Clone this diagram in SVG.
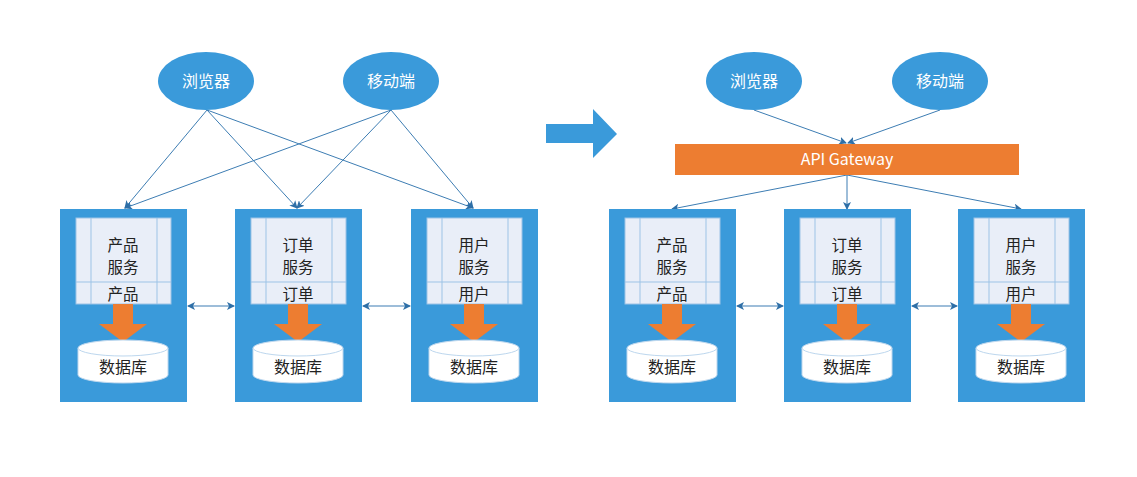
<svg xmlns="http://www.w3.org/2000/svg" width="1137" height="477" viewBox="0 0 1137 477">
<defs>
<style>
.box{fill:#3A9ADA;}
.tbl{fill:#E9EEF8;stroke:#9DC3E6;stroke-width:1;}
.tl{stroke:#9DC3E6;stroke-width:1;}
.org{fill:#ED7D31;}
.cyl{fill:#FFFFFF;stroke:#BDD7EE;stroke-width:1;}
.ell{fill:#3A9ADA;}
.t{font-family:"Noto Sans CJK SC","Noto Sans",sans-serif;font-size:15.5px;fill:#222;text-anchor:middle;}
.td{font-family:"Noto Sans CJK SC","Noto Sans",sans-serif;font-size:16px;fill:#222;text-anchor:middle;}
.tw{font-family:"Noto Sans CJK SC","Noto Sans",sans-serif;font-size:16px;fill:#FFFFFF;text-anchor:middle;}
.con{stroke:#3D7DB3;stroke-width:1;fill:none;marker-end:url(#ah);}
.dbl{stroke:#3D7DB3;stroke-width:1.2;fill:none;marker-end:url(#ah);marker-start:url(#ahs);}
</style>
<marker id="ah" markerWidth="8" markerHeight="8" refX="7" refY="4" orient="auto" markerUnits="userSpaceOnUse">
<path d="M0,0 L8,4 L0,8 L2,4 Z" fill="#2E6FA7"/>
</marker>
<marker id="ahs" markerWidth="8" markerHeight="8" refX="1" refY="4" orient="auto" markerUnits="userSpaceOnUse">
<path d="M8,0 L0,4 L8,8 L6,4 Z" fill="#2E6FA7"/>
</marker>
<g id="svc">
<rect class="box" x="0" y="0" width="127" height="193"/>
<rect class="tbl" x="16" y="9" width="95" height="86"/>
<line class="tl" x1="31" y1="9" x2="31" y2="95"/>
<line class="tl" x1="97" y1="9" x2="97" y2="95"/>
<line class="tl" x1="16" y1="73" x2="111" y2="73"/>
<polygon class="org" points="53,95 73,95 73,115 87,115 63,133 39,115 53,115"/>
<path class="cyl" d="M18,139 L18,166 A45,8 0 0 0 108,166 L108,139"/>
<ellipse class="cyl" cx="63" cy="139" rx="45" ry="8"/>
<text class="td" x="63" y="164">数据库</text>
</g>
</defs>

<g id="connectors">
<line class="con" x1="207" y1="110" x2="125" y2="208"/>
<line class="con" x1="207" y1="110" x2="297" y2="208"/>
<line class="con" x1="207" y1="110" x2="473" y2="208"/>
<line class="con" x1="391" y1="110" x2="125" y2="208"/>
<line class="con" x1="391" y1="110" x2="297" y2="208"/>
<line class="con" x1="391" y1="110" x2="473" y2="208"/>
<line class="dbl" x1="188" y1="306" x2="234" y2="306"/>
<line class="dbl" x1="363" y1="306" x2="410" y2="306"/>
<line class="con" x1="754" y1="110" x2="846" y2="143"/>
<line class="con" x1="940" y1="110" x2="848" y2="143"/>
<line class="con" x1="847" y1="175" x2="672" y2="209"/>
<line class="con" x1="847" y1="175" x2="847" y2="209"/>
<line class="con" x1="847" y1="175" x2="1021" y2="209"/>
<line class="dbl" x1="737" y1="306" x2="783" y2="306"/>
<line class="dbl" x1="912" y1="306" x2="957" y2="306"/>
</g>

<g id="browser-left">
<ellipse class="ell" cx="206" cy="81" rx="48" ry="29"/>
<text class="tw" x="206" y="87">浏览器</text>
</g>
<g id="mobile-left">
<ellipse class="ell" cx="391" cy="81" rx="48" ry="29"/>
<text class="tw" x="391" y="87">移动端</text>
</g>

<g id="product-left">
<use href="#svc" x="60" y="209"/>
<text class="t" x="123" y="251">产品</text>
<text class="t" x="123" y="273">服务</text>
<text class="t" x="123" y="300">产品</text>
</g>
<g id="order-left">
<use href="#svc" x="235" y="209"/>
<text class="t" x="298" y="251">订单</text>
<text class="t" x="298" y="273">服务</text>
<text class="t" x="298" y="300">订单</text>
</g>
<g id="user-left">
<use href="#svc" x="411" y="209"/>
<text class="t" x="474" y="251">用户</text>
<text class="t" x="474" y="273">服务</text>
<text class="t" x="474" y="300">用户</text>
</g>

<g id="big-arrow">
<polygon fill="#3A9ADA" points="546,124 593,124 593,109 617,134 593,158 593,143 546,143"/>
</g>

<g id="browser-right">
<ellipse class="ell" cx="754" cy="81" rx="48" ry="29"/>
<text class="tw" x="754" y="87">浏览器</text>
</g>
<g id="mobile-right">
<ellipse class="ell" cx="940" cy="81" rx="48" ry="29"/>
<text class="tw" x="940" y="87">移动端</text>
</g>

<g id="api-gateway">
<rect class="org" x="675" y="144" width="344" height="31"/>
<text class="tw" x="847" y="165">API Gateway</text>
</g>

<g id="product-right">
<use href="#svc" x="609" y="209"/>
<text class="t" x="672" y="251">产品</text>
<text class="t" x="672" y="273">服务</text>
<text class="t" x="672" y="300">产品</text>
</g>
<g id="order-right">
<use href="#svc" x="784" y="209"/>
<text class="t" x="847" y="251">订单</text>
<text class="t" x="847" y="273">服务</text>
<text class="t" x="847" y="300">订单</text>
</g>
<g id="user-right">
<use href="#svc" x="958" y="209"/>
<text class="t" x="1021" y="251">用户</text>
<text class="t" x="1021" y="273">服务</text>
<text class="t" x="1021" y="300">用户</text>
</g>
</svg>
